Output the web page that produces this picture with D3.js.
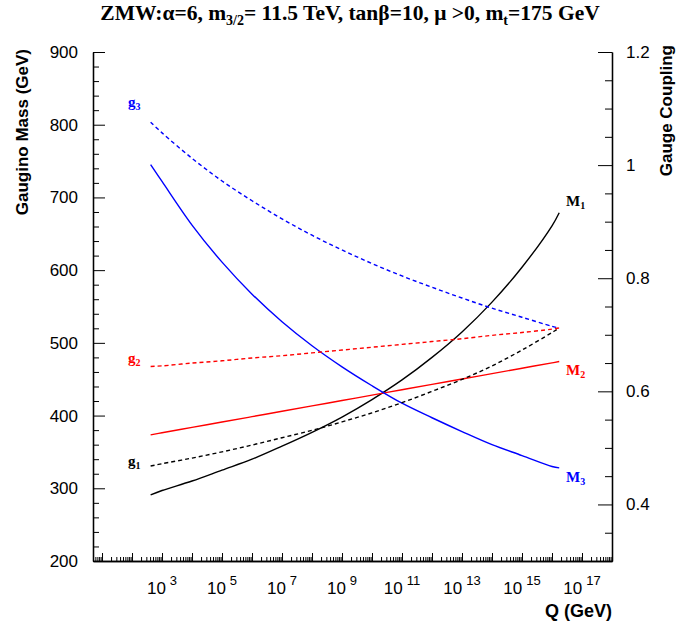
<!DOCTYPE html>
<html lang="en">
<head>
<meta charset="utf-8">
<title>Gaugino masses and gauge couplings</title>
<script src="https://d3js.org/d3.v7.min.js"></script>
<style>
  body { margin: 0; background: #fff; }
  .tick text { font-family: "Liberation Sans", Arial, sans-serif; }
  .serif { font-family: "Liberation Serif", "Times New Roman", serif; font-weight: bold; }
  .sans { font-family: "Liberation Sans", Arial, sans-serif; }
</style>
</head>
<body>
<div id="chart"></div>
<script>
// renormalisation scale Q (GeV) where values were read
const scaleQ = [417, 1e3, 1e4, 1e5, 1e6, 1e7, 1e8, 1e9, 1e10, 1e11, 1e12, 1e13, 1e14, 1e15, 1e16, 1.74e16];

// gauge couplings (right axis)
const g1 = [0.468, 0.472, 0.482, 0.493, 0.505, 0.518, 0.531, 0.546, 0.562, 0.580, 0.600, 0.621, 0.645, 0.673, 0.704, 0.712];
const g2 = [0.644, 0.645, 0.650, 0.654, 0.659, 0.663, 0.668, 0.673, 0.678, 0.683, 0.688, 0.693, 0.699, 0.704, 0.710, 0.712];
const g3 = [1.076, 1.057, 1.012, 0.972, 0.937, 0.905, 0.876, 0.850, 0.826, 0.804, 0.784, 0.765, 0.747, 0.731, 0.715, 0.712];

// gaugino masses in GeV (left axis)
const M1 = [291, 297, 310, 325, 340, 358, 377, 398, 422, 449, 480, 515, 556, 604, 661, 679];
const M2 = [373.5, 376.3, 383.7, 391.1, 398.5, 405.9, 413.3, 420.7, 428.1, 435.5, 442.9, 450.3, 457.7, 465.1, 472.5, 474.3];
const M3 = [745, 722, 662, 611, 567, 529, 496, 467, 441, 417, 397, 378, 360, 345, 330, 328];

// axis ticks
const massTicks = [200, 300, 400, 500, 600, 700, 800, 900];
const couplingTicks = [0.4, 0.6, 0.8, 1.0, 1.2];
const labelledExponents = [3, 5, 7, 9, 11, 13, 15, 17];

const width = 681, height = 623;
const plotLeft = 93, plotRight = 612, plotTop = 52, plotBottom = 561;
const blue = "#0000ff", red = "#ff0000", black = "#000000";

const svg = d3.select("#chart").append("svg")
  .attr("width", width).attr("height", height)
  .attr("viewBox", [0, 0, width, height]);

const x = d3.scaleLog().domain([5, 1e18]).range([plotLeft, plotRight]);
const yMass = d3.scaleLinear().domain([200, 900]).range([plotBottom, plotTop]);
const yCoup = d3.scaleLinear().domain([0.3, 1.2]).range([plotBottom, plotTop]);

// ---- axes ----
function plain(g) {
  g.select(".domain").attr("stroke", black).attr("stroke-width", 1.3);
  g.selectAll(".tick line").attr("stroke", black).attr("stroke-width", 1);
}

// left axis: ticks point inward
const massMinor = d3.range(200, 901, 20).filter(v => v % 100 !== 0);
svg.append("g").attr("transform", `translate(${plotLeft},0)`)
  .call(d3.axisRight(yMass).tickValues(massMinor).tickSize(6).tickSizeOuter(0).tickFormat(""))
  .call(plain);
svg.append("g").attr("transform", `translate(${plotLeft},0)`)
  .call(d3.axisRight(yMass).tickValues(massTicks).tickSize(12).tickSizeOuter(0).tickFormat(""))
  .call(plain);
svg.append("g").attr("transform", `translate(${plotLeft},0)`)
  .call(d3.axisLeft(yMass).tickValues(massTicks).tickSize(0).tickPadding(15))
  .call(g => g.select(".domain").remove())
  .call(g => g.selectAll("text").attr("font-size", 17).attr("fill", black));

// right axis
const coupMinor = d3.range(0.3, 1.2001, 0.05).filter(v => Math.abs(v * 5 - Math.round(v * 5)) > 1e-6);
svg.append("g").attr("transform", `translate(${plotRight},0)`)
  .call(d3.axisLeft(yCoup).tickValues(coupMinor).tickSize(7).tickSizeOuter(0).tickFormat(""))
  .call(plain);
svg.append("g").attr("transform", `translate(${plotRight},0)`)
  .call(d3.axisLeft(yCoup).tickValues(couplingTicks).tickSize(14).tickSizeOuter(0).tickFormat(""))
  .call(plain);
svg.append("g").attr("transform", `translate(${plotRight},0)`)
  .call(d3.axisRight(yCoup).tickValues(couplingTicks).tickSize(0).tickPadding(14)
    .tickFormat(d => String(+d.toFixed(1))))
  .call(g => g.select(".domain").remove())
  .call(g => g.selectAll("text").attr("font-size", 17).attr("fill", black));

// bottom axis (log)
const decades = d3.range(1, 18).map(e => Math.pow(10, e));
const qMinor = [];
d3.range(0, 18).forEach(e => d3.range(2, 10).forEach(m => {
  const v = m * Math.pow(10, e);
  if (v >= 5 && v <= 1e18) qMinor.push(v);
}));
svg.append("g").attr("transform", `translate(0,${plotBottom})`)
  .call(d3.axisTop(x).tickValues(qMinor).tickSize(4).tickSizeOuter(0).tickFormat(""))
  .call(plain);
svg.append("g").attr("transform", `translate(0,${plotBottom})`)
  .call(d3.axisTop(x).tickValues(decades).tickSize(8).tickSizeOuter(0).tickFormat(""))
  .call(plain);

const xl = svg.append("g").attr("class", "sans").attr("fill", black)
  .selectAll("text").data(labelledExponents).join("text")
  .attr("x", d => x(Math.pow(10, d)))
  .attr("y", 594)
  .attr("text-anchor", "middle")
  .attr("font-size", 17);
xl.append("tspan").text("10");
xl.append("tspan").attr("dx", 4).attr("dy", -9).attr("font-size", 13).text(d => d);

// ---- curves ----
const rows = scaleQ.map((q, i) => ({q, g1: g1[i], g2: g2[i], g3: g3[i], M1: M1[i], M2: M2[i], M3: M3[i]}));
const series = [
  {key: "M1", y: yMass, color: black, dash: null},
  {key: "M2", y: yMass, color: red, dash: null},
  {key: "M3", y: yMass, color: blue, dash: null},
  {key: "g1", y: yCoup, color: black, dash: "4,3"},
  {key: "g2", y: yCoup, color: red, dash: "4,3"},
  {key: "g3", y: yCoup, color: blue, dash: "4,3"}
];
svg.append("g").selectAll("path").data(series).join("path")
  .attr("fill", "none")
  .attr("stroke", s => s.color)
  .attr("stroke-width", 1.4)
  .attr("stroke-dasharray", s => s.dash)
  .attr("d", s => d3.line().curve(d3.curveCatmullRom.alpha(0.5))
    .x(d => x(d.q)).y(d => s.y(d[s.key]))(rows));

// ---- curve labels ----
const curveLabels = [
  {name: "g", sub: "3", color: blue, x: 128, y: 107},
  {name: "g", sub: "2", color: red, x: 128, y: 363},
  {name: "g", sub: "1", color: black, x: 128, y: 466},
  {name: "M", sub: "1", color: black, x: 566, y: 206},
  {name: "M", sub: "2", color: red, x: 566, y: 375},
  {name: "M", sub: "3", color: blue, x: 566, y: 482}
];
const cl = svg.append("g").attr("class", "serif").selectAll("text").data(curveLabels).join("text")
  .attr("x", d => d.x).attr("y", d => d.y)
  .attr("fill", d => d.color).attr("font-size", 15);
cl.append("tspan").text(d => d.name);
cl.append("tspan").attr("dy", 3).attr("font-size", 10).text(d => d.sub);

// ---- titles ----
const title = svg.append("text").attr("class", "serif")
  .attr("x", 350).attr("y", 20).attr("text-anchor", "middle").attr("font-size", 21.5);
title.append("tspan").text("ZMW:α=6, m");
title.append("tspan").attr("dy", 5).attr("font-size", 14).text("3/2");
title.append("tspan").attr("dy", -5).text("= 11.5 TeV, tanβ=10, μ >0, m");
title.append("tspan").attr("dy", 5).attr("font-size", 14).text("t");
title.append("tspan").attr("dy", -5).text("=175 GeV");

svg.append("text").attr("class", "sans")
  .attr("transform", `translate(28,${plotTop - 3}) rotate(-90)`)
  .attr("text-anchor", "end").attr("font-weight", "bold").attr("font-size", 17)
  .text("Gaugino Mass (GeV)");

svg.append("text").attr("class", "sans")
  .attr("transform", `translate(672,${plotTop - 7}) rotate(-90)`)
  .attr("text-anchor", "end").attr("font-weight", "bold").attr("font-size", 17)
  .text("Gauge Coupling");

svg.append("text").attr("class", "sans")
  .attr("x", plotRight).attr("y", 617)
  .attr("text-anchor", "end").attr("font-weight", "bold").attr("font-size", 18)
  .text("Q (GeV)");
</script>
</body>
</html>
